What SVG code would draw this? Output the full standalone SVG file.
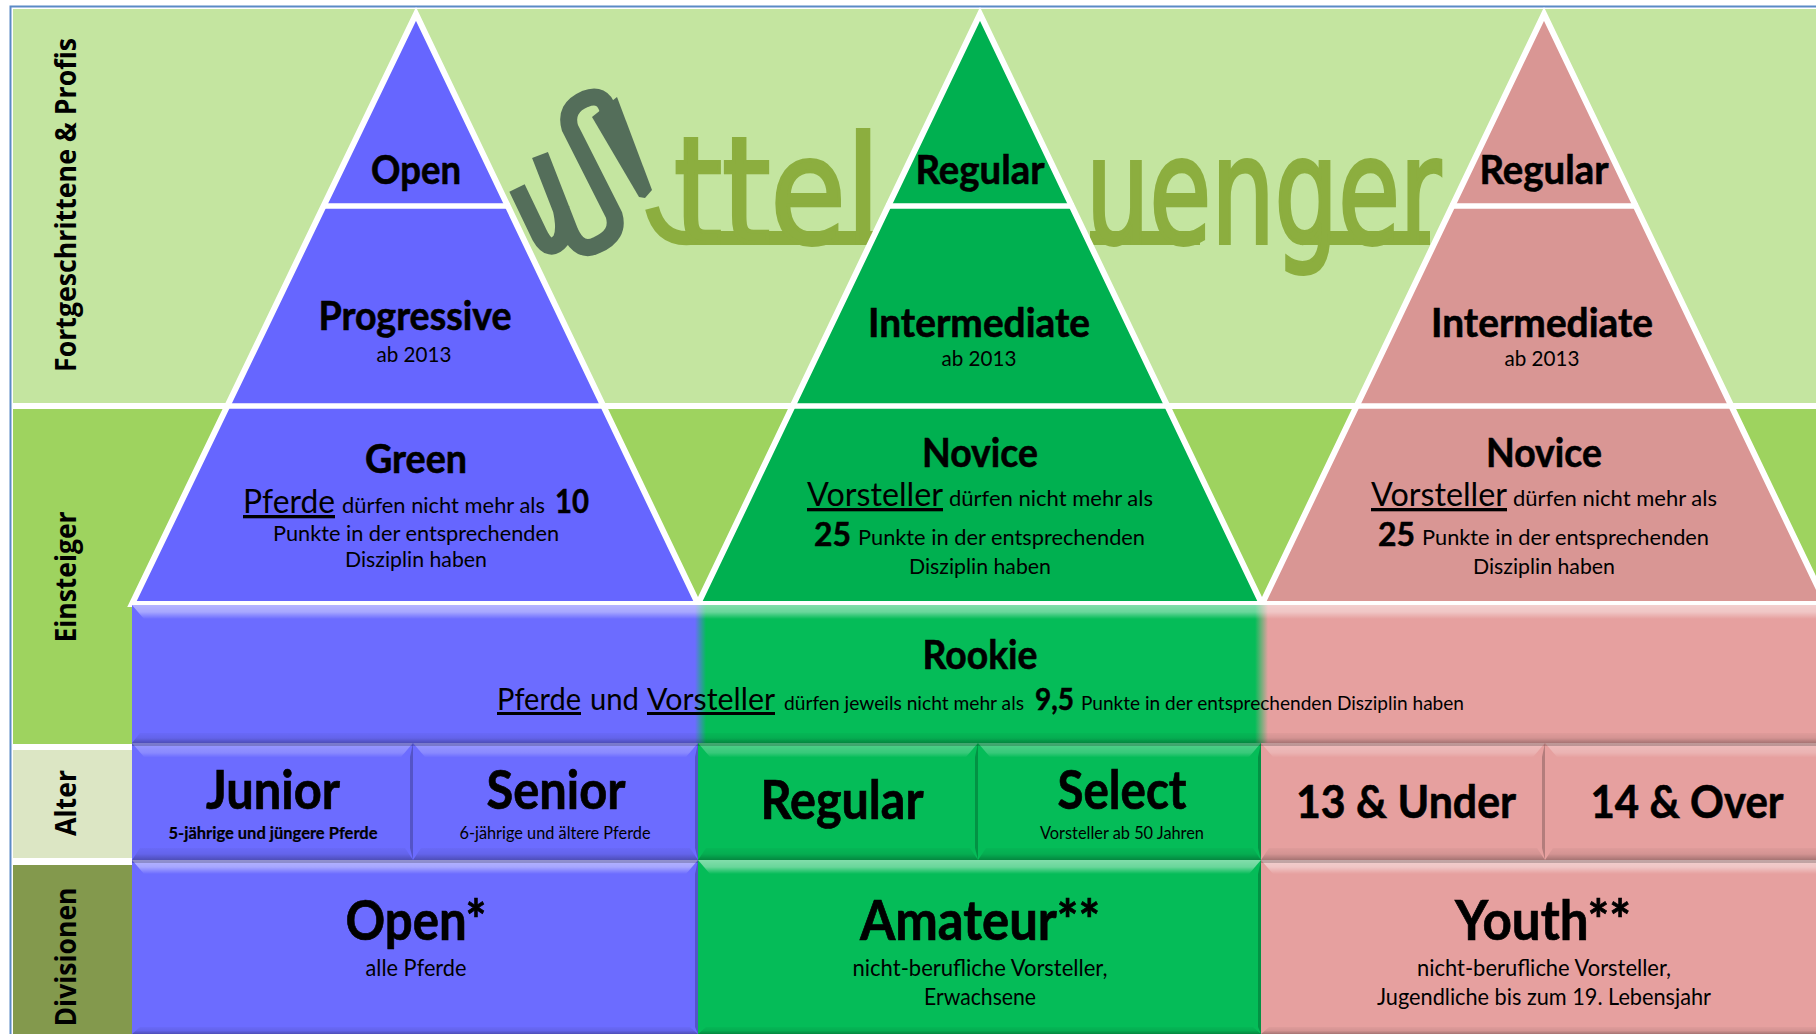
<svg xmlns="http://www.w3.org/2000/svg" width="1816" height="1034" viewBox="0 0 1816 1034">
<style>
text{font-family:"Lato","Carlito","Liberation Sans",sans-serif;fill:#000;text-anchor:middle}
.st{text-anchor:start}
.b{font-weight:700;stroke:#000;stroke-width:.5}
.t37{font-size:40px;font-weight:700;stroke:#000;stroke-width:.6}
.t21{font-size:21.5px}
.t23{font-size:23px}
.t50{font-size:53px;font-weight:700;stroke:#000;stroke-width:.7}
.t44{font-size:46px;font-weight:700;stroke:#000;stroke-width:.6}
.t17{font-size:17px}
.side{font-family:"Open Sans","DejaVu Sans",sans-serif;font-weight:700;font-size:29px}
.tri{stroke:#fff;stroke-width:6;stroke-linejoin:miter;stroke-miterlimit:10}
.sep{stroke:#fff;stroke-width:5.500}
.blue{fill:#6666FF}.green{fill:#00B050}.pink{fill:#D99694}
.bblue{fill:#6C6CFF}.bgreen{fill:#05BC58}.bpink{fill:#E6A09F}
.hi{fill:url(#hi)}.hi2{fill:url(#hi2)}.lo{fill:url(#lo)}
.sl{fill:#fff;opacity:.1}.sr{fill:#000;opacity:.22}
.dk{fill:#000;opacity:.2}
.logotext{font-family:"DejaVu Sans",sans-serif;font-size:148px;text-anchor:start;fill:#8CAE3F;stroke:#8CAE3F;stroke-width:4}
</style>
<defs>
<linearGradient id="hi" x1="0" y1="0" x2="0" y2="1"><stop offset="0" stop-color="#fff" stop-opacity=".32"/><stop offset=".7" stop-color="#fff" stop-opacity=".2"/><stop offset="1" stop-color="#fff" stop-opacity=".02"/></linearGradient>
<linearGradient id="hi2" x1="0" y1="0" x2="0" y2="1"><stop offset="0" stop-color="#fff" stop-opacity=".5"/><stop offset=".5" stop-color="#fff" stop-opacity=".4"/><stop offset="1" stop-color="#fff" stop-opacity="0"/></linearGradient>
<linearGradient id="lo" x1="0" y1="0" x2="0" y2="1"><stop offset="0" stop-color="#000" stop-opacity=".03"/><stop offset=".5" stop-color="#000" stop-opacity=".08"/><stop offset="1" stop-color="#000" stop-opacity=".28"/></linearGradient>
<linearGradient id="rk" gradientUnits="userSpaceOnUse" x1="132" y1="0" x2="1816" y2="0">
<stop offset=".3343" stop-color="#6C6CFF"/><stop offset=".3409" stop-color="#05BC58"/><stop offset=".6669" stop-color="#05BC58"/><stop offset=".6746" stop-color="#E6A09F"/>
</linearGradient>
</defs>
<rect width="1816" height="1034" fill="#fff"/>
<g id="frame">
<path d="M10.500 1034V6.500H1816" fill="none" stroke="#5B8AC6" stroke-width="2"/>
</g>
<g id="rows">
<rect x="13" y="9" width="1803" height="394" fill="#C4E5A0"/>
<rect x="13" y="409" width="1803" height="335" fill="#9ED35F"/>
<rect x="13" y="750" width="119" height="108" fill="#DCE6C4"/>
<rect x="13" y="865" width="119" height="169" fill="#83994D"/>
</g>
<g id="logo">
<path d="M517 188L540 236Q550 254 561 240Q566 230 561 208M540 155L570 232Q580 254 597 245Q620 235 614 215L570 128Q564 108 585 99Q603 92 608 110" fill="none" stroke="#546E5A" stroke-width="17" stroke-linejoin="round"/>
<polygon points="617,97 652,190 645,198 639,197 592,117" fill="#546E5A"/>
<path d="M652 208Q660 240 690 238H880M1090 238H1200M1300 238H1430" fill="none" stroke="#8CAE3F" stroke-width="14"/>
<text class="logotext" transform="translate(674 243) scale(.83 1)">ttel</text>
<text class="logotext" transform="translate(1086 243) scale(.677 1)">uenger</text>
</g>
<g id="band-line"><path class="sep" d="M13 406H1816"/></g>
<g id="pyramid-open">
<polygon class="tri blue" points="416,14 132,604 698,604"/>
<path class="sep" d="M322 206H510M226 406H606"/>
<text class="t37" x="416" y="184" textLength="90" lengthAdjust="spacingAndGlyphs">Open</text>
<text class="t37" x="415" y="330" textLength="193" lengthAdjust="spacingAndGlyphs">Progressive</text>
<text class="t21" x="414" y="362" textLength="75" lengthAdjust="spacingAndGlyphs">ab 2013</text>
<text class="t37" x="416" y="473" textLength="102" lengthAdjust="spacingAndGlyphs">Green</text>
<text class="st" x="243" y="513" font-size="33" text-decoration="underline" textLength="92" lengthAdjust="spacingAndGlyphs">Pferde</text>
<text class="st t21" x="342" y="513" textLength="203" lengthAdjust="spacingAndGlyphs">dürfen nicht mehr als</text>
<text class="st b" x="555" y="513" font-size="33" textLength="34" lengthAdjust="spacingAndGlyphs">10</text>
<text class="t21" x="416" y="541" textLength="286" lengthAdjust="spacingAndGlyphs">Punkte in der entsprechenden</text>
<text class="t21" x="416" y="567" textLength="142" lengthAdjust="spacingAndGlyphs">Disziplin haben</text>
</g>
<g id="pyramid-amateur">
<polygon class="tri green" points="980,14 698,604 1262,604"/>
<path class="sep" d="M886 206H1074M790 406H1170"/>
<text class="t37" x="980" y="184" textLength="129" lengthAdjust="spacingAndGlyphs">Regular</text>
<text class="t37" x="979" y="337" textLength="222" lengthAdjust="spacingAndGlyphs">Intermediate</text>
<text class="t21" x="979" y="366" textLength="75" lengthAdjust="spacingAndGlyphs">ab 2013</text>
<text class="t37" x="980" y="467" textLength="116" lengthAdjust="spacingAndGlyphs">Novice</text>
<text class="st" x="807" y="506" font-size="33" text-decoration="underline" textLength="136" lengthAdjust="spacingAndGlyphs">Vorsteller</text>
<text class="st t21" x="949" y="506" textLength="204" lengthAdjust="spacingAndGlyphs">dürfen nicht mehr als</text>
<text class="st b" x="814" y="546" font-size="33" textLength="37" lengthAdjust="spacingAndGlyphs">25</text>
<text class="st t21" x="858" y="545" textLength="287" lengthAdjust="spacingAndGlyphs">Punkte in der entsprechenden</text>
<text class="t21" x="980" y="574" textLength="142" lengthAdjust="spacingAndGlyphs">Disziplin haben</text>
</g>
<g id="pyramid-youth">
<polygon class="tri pink" points="1544,14 1262,604 1826,604"/>
<path class="sep" d="M1450 206H1638M1354 406H1734"/>
<text class="t37" x="1544" y="184" textLength="129" lengthAdjust="spacingAndGlyphs">Regular</text>
<text class="t37" x="1542" y="337" textLength="222" lengthAdjust="spacingAndGlyphs">Intermediate</text>
<text class="t21" x="1542" y="366" textLength="75" lengthAdjust="spacingAndGlyphs">ab 2013</text>
<text class="t37" x="1544" y="467" textLength="116" lengthAdjust="spacingAndGlyphs">Novice</text>
<text class="st" x="1371" y="506" font-size="33" text-decoration="underline" textLength="136" lengthAdjust="spacingAndGlyphs">Vorsteller</text>
<text class="st t21" x="1513" y="506" textLength="204" lengthAdjust="spacingAndGlyphs">dürfen nicht mehr als</text>
<text class="st b" x="1378" y="546" font-size="33" textLength="37" lengthAdjust="spacingAndGlyphs">25</text>
<text class="st t21" x="1422" y="545" textLength="287" lengthAdjust="spacingAndGlyphs">Punkte in der entsprechenden</text>
<text class="t21" x="1544" y="574" textLength="142" lengthAdjust="spacingAndGlyphs">Disziplin haben</text>
</g>
<g id="rookie">
<rect x="132" y="602" width="1700" height="3" fill="#fff"/>
<rect x="132" y="605" width="1700" height="138" fill="url(#rk)"/>
<polygon class="hi2" points="132,605 1832,605 1820,619 144,619"/>
<polygon class="lo" points="132,743 1832,743 1824,733 140,733"/>
<text class="t37" x="980" y="669" textLength="115" lengthAdjust="spacingAndGlyphs">Rookie</text>
<text class="st" x="497" y="710" font-size="30" text-decoration="underline" textLength="84" lengthAdjust="spacingAndGlyphs">Pferde</text>
<text class="st" x="590" y="710" font-size="30" textLength="49" lengthAdjust="spacingAndGlyphs">und</text>
<text class="st" x="647" y="710" font-size="30" text-decoration="underline" textLength="128" lengthAdjust="spacingAndGlyphs">Vorsteller</text>
<text class="st" x="784" y="710" font-size="20" textLength="240" lengthAdjust="spacingAndGlyphs">dürfen jeweils nicht mehr als</text>
<text class="st b" x="1035" y="710" font-size="31" textLength="39" lengthAdjust="spacingAndGlyphs">9,5</text>
<text class="st" x="1081" y="710" font-size="20" textLength="383" lengthAdjust="spacingAndGlyphs">Punkte in der entsprechenden Disziplin haben</text>
</g>
<g id="junior">
<rect class="bblue" x="132" y="743" width="281" height="117"/>
<polygon class="hi" points="132,743 413,743 401,757 144,757"/><polygon class="lo" points="132,860 413,860 405,848 140,848"/><polygon class="sr" points="413,743 410,757 410,848 413,860"/>
<rect class="dk" x="132" y="743" width="281" height="3"/>
<text class="t50" x="273" y="809" textLength="134" lengthAdjust="spacingAndGlyphs">Junior</text>
<text class="t17 b" x="273" y="839" textLength="209" lengthAdjust="spacingAndGlyphs" style="stroke-width:.2">5-jährige und jüngere Pferde</text>
</g>
<g id="senior">
<rect class="bblue" x="413" y="743" width="285" height="117"/>
<polygon class="hi" points="413,743 698,743 686,757 425,757"/><polygon class="lo" points="413,860 698,860 690,848 421,848"/><polygon class="sr" points="698,743 695,757 695,848 698,860"/>
<rect class="dk" x="413" y="743" width="285" height="3"/>
<text class="t50" x="556" y="809" textLength="139" lengthAdjust="spacingAndGlyphs">Senior</text>
<text class="t17" x="555" y="839" textLength="191" lengthAdjust="spacingAndGlyphs">6-jährige und ältere Pferde</text>
</g>
<g id="regular">
<rect class="bgreen" x="698" y="743" width="280" height="117"/>
<polygon class="hi" points="698,743 978,743 966,757 710,757"/><polygon class="lo" points="698,860 978,860 970,848 706,848"/><polygon class="sr" points="978,743 975,757 975,848 978,860"/>
<rect class="dk" x="698" y="743" width="280" height="3"/>
<text class="t50" x="842" y="819" textLength="163" lengthAdjust="spacingAndGlyphs">Regular</text>
</g>
<g id="select">
<rect class="bgreen" x="978" y="743" width="283" height="117"/>
<polygon class="hi" points="978,743 1261,743 1249,757 990,757"/><polygon class="lo" points="978,860 1261,860 1253,848 986,848"/><polygon class="sr" points="1261,743 1258,757 1258,848 1261,860"/>
<rect class="dk" x="978" y="743" width="283" height="3"/>
<text class="t50" x="1122" y="809" textLength="129" lengthAdjust="spacingAndGlyphs">Select</text>
<text class="t17" x="1122" y="839" textLength="164" lengthAdjust="spacingAndGlyphs">Vorsteller ab 50 Jahren</text>
</g>
<g id="under13">
<rect class="bpink" x="1261" y="743" width="284" height="117"/>
<polygon class="hi" points="1261,743 1545,743 1533,757 1273,757"/><polygon class="lo" points="1261,860 1545,860 1537,848 1269,848"/><polygon class="sr" points="1545,743 1542,757 1542,848 1545,860"/>
<rect class="dk" x="1261" y="743" width="284" height="3"/>
<text class="t44" x="1406" y="818" textLength="220" lengthAdjust="spacingAndGlyphs">13 &amp; Under</text>
</g>
<g id="over14">
<rect class="bpink" x="1545" y="743" width="285" height="117"/>
<polygon class="hi" points="1545,743 1830,743 1818,757 1557,757"/><polygon class="lo" points="1545,860 1830,860 1822,848 1553,848"/>
<rect class="dk" x="1545" y="743" width="285" height="3"/>
<text class="t44" x="1687" y="818" textLength="193" lengthAdjust="spacingAndGlyphs">14 &amp; Over</text>
</g>
<g id="open">
<rect class="bblue" x="132" y="860" width="566" height="174"/>
<polygon class="hi2" points="132,860 698,860 686,874 144,874"/><polygon class="lo" points="132,1034 698,1034 690,1027 140,1027"/><polygon class="sr" points="698,860 695,874 695,1027 698,1034"/>
<rect class="dk" x="132" y="860" width="566" height="3"/>
<text class="b" font-size="55" x="416" y="940" textLength="141" lengthAdjust="spacingAndGlyphs" style="stroke-width:.7">Open*</text>
<text class="t23" x="416" y="976" textLength="101" lengthAdjust="spacingAndGlyphs">alle Pferde</text>
</g>
<g id="amateur">
<rect class="bgreen" x="698" y="860" width="563" height="174"/>
<polygon class="hi2" points="698,860 1261,860 1249,874 710,874"/><polygon class="lo" points="698,1034 1261,1034 1253,1027 706,1027"/><polygon class="sr" points="1261,860 1258,874 1258,1027 1261,1034"/>
<text class="b" font-size="55" x="980" y="940" textLength="240" lengthAdjust="spacingAndGlyphs" style="stroke-width:.7">Amateur**</text>
<text class="t23" x="980" y="976" textLength="255" lengthAdjust="spacingAndGlyphs">nicht-berufliche Vorsteller,</text>
<text class="t23" x="980" y="1005" textLength="112" lengthAdjust="spacingAndGlyphs">Erwachsene</text>
</g>
<g id="youth">
<rect class="bpink" x="1261" y="860" width="569" height="174"/>
<polygon class="hi2" points="1261,860 1830,860 1818,874 1273,874"/><polygon class="lo" points="1261,1034 1830,1034 1822,1027 1269,1027"/>
<rect class="dk" x="1261" y="860" width="569" height="3"/>
<text class="b" font-size="55" x="1543" y="940" textLength="176" lengthAdjust="spacingAndGlyphs" style="stroke-width:.7">Youth**</text>
<text class="t23" x="1544" y="976" textLength="254" lengthAdjust="spacingAndGlyphs">nicht-berufliche Vorsteller,</text>
<text class="t23" x="1544" y="1005" textLength="334" lengthAdjust="spacingAndGlyphs">Jugendliche bis zum 19. Lebensjahr</text>
</g>
<g id="side-labels">
<text class="side" transform="translate(76 205) rotate(-90)" textLength="334" lengthAdjust="spacingAndGlyphs">Fortgeschrittene &amp; Profis</text>
<text class="side" transform="translate(76 577) rotate(-90)" textLength="131" lengthAdjust="spacingAndGlyphs">Einsteiger</text>
<text class="side" transform="translate(76 803) rotate(-90)" textLength="66" lengthAdjust="spacingAndGlyphs">Alter</text>
<text class="side" transform="translate(76 957) rotate(-90)" textLength="139" lengthAdjust="spacingAndGlyphs">Divisionen</text>
</g>
</svg>
